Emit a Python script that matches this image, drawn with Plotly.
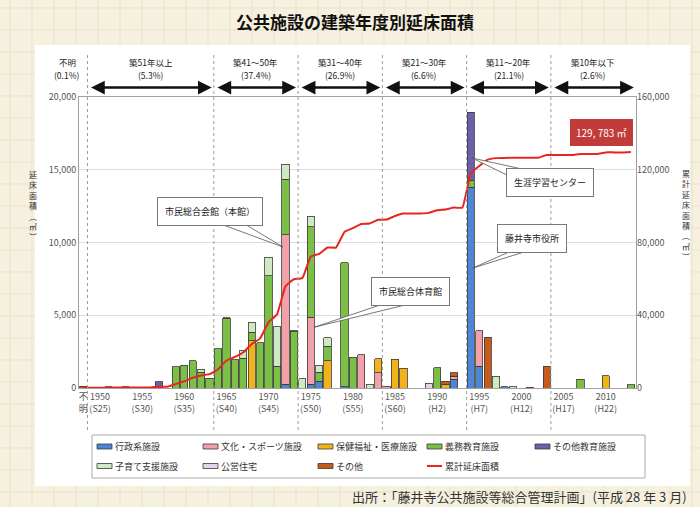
import plotly.graph_objects as go
import numpy as np

# ---------------- data ----------------
# x positions: 1948 = "不明" (unknown), 1949..2013 = construction years
all_years = list(range(1948, 2014))

cat_names = ["行政系施設", "文化・スポーツ施設", "保健福祉・医療施設", "義務教育施設",
             "その他教育施設", "子育て支援施設", "公営住宅", "その他"]
cat_colors = ["#4f86d4", "#f4a0a8", "#f2b31a", "#7cbf45",
              "#6e5fae", "#cfe9c2", "#e6d3ea", "#c65b1a"]
line_name = "累計延床面積"
line_color = "#e8251f"

gyosei_years = [1972, 1975, 1976, 1979, 1992, 1994, 1995, 1998]
gyosei_vals  = [250, 250, 450, 100, 600, 13800, 1500, 100]

bunka_years = [1972, 1975, 1981, 1983, 1984, 1992, 1995]
bunka_vals  = [10300, 4600, 2280, 1050, 120, 220, 2450]

hoken_years = [1968, 1977, 1983, 1985, 1986, 1991, 2010]
hoken_vals  = [3250, 1880, 970, 1980, 1370, 250, 850]

gimu_years = [1959, 1960, 1961, 1962, 1963, 1964, 1965, 1966, 1967, 1968, 1969, 1970,
              1971, 1972, 1973, 1975, 1976, 1977, 1979, 1980, 1990, 1994, 2007, 2013]
gimu_vals  = [1450, 1580, 1880, 1100, 680, 2700, 4750, 1930, 2030, 580, 3100, 7700,
              1500, 3800, 3850, 6250, 650, 1000, 8500, 2120, 1400, 450, 600, 230]

sonota_kyoiku_years = [1957, 1994]
sonota_kyoiku_vals  = [420, 4700]

kosodate_years = [1962, 1967, 1968, 1970, 1971, 1972, 1974, 1975, 1976, 1977, 1982, 1997]
kosodate_vals  = [200, 580, 680, 1300, 2700, 1030, 650, 690, 450, 560, 250, 820]

jutaku_years = [1989, 1999]
jutaku_vals  = [333, 80]

sonota_years = [1948, 1951, 1953, 1965, 1973, 1991, 1992, 1996, 2001, 2003]
sonota_vals  = [130, 80, 80, 80, 70, 220, 220, 3480, 50, 1480]

series_years = [gyosei_years, bunka_years, hoken_years, gimu_years,
                sonota_kyoiku_years, kosodate_years, jutaku_years, sonota_years]
series_vals = [gyosei_vals, bunka_vals, hoken_vals, gimu_vals,
               sonota_kyoiku_vals, kosodate_vals, jutaku_vals, sonota_vals]

tick_vals = [1948, 1950, 1955, 1960, 1965, 1970, 1975, 1980, 1985, 1990, 1995, 2000, 2005, 2010]
tick_text = ["不<br>明", "1950<br>(S25)", "1955<br>(S30)", "1960<br>(S35)", "1965<br>(S40)",
             "1970<br>(S45)", "1975<br>(S50)", "1980<br>(S55)", "1985<br>(S60)", "1990<br>(H2)",
             "1995<br>(H7)", "2000<br>(H12)", "2005<br>(H17)", "2010<br>(H22)"]

# age bands (boundaries between years)
band_edges = [1947.5, 1948.5, 1963.5, 1973.5, 1983.5, 1993.5, 2003.5, 2013.6]
band_names = ["不明", "築51年以上", "築41～50年", "築31～40年", "築21～30年", "築11～20年", "築10年以下"]
band_pcts = ["(0.1%)", "(5.3%)", "(37.4%)", "(26.9%)", "(6.6%)", "(21.1%)", "(2.6%)"]

total_label = "129, 783 ㎡"

# ---------------- figure ----------------
FONT = "Noto Sans CJK JP"
fig = go.Figure()

for name, color, yrs, vals in zip(cat_names, cat_colors, series_years, series_vals):
    fig.add_trace(go.Bar(x=yrs, y=vals, name=name,
                         marker=dict(color=color, line=dict(color="#3a3a3a", width=0.8)),
                         yaxis="y"))

# cumulative line
totals = {y: 0 for y in all_years}
for yrs, vals in zip(series_years, series_vals):
    for y, v in zip(yrs, vals):
        totals[y] += v
cum = np.cumsum([totals[y] for y in all_years])
fig.add_trace(go.Scatter(x=all_years, y=cum, name=line_name, mode="lines",
                         line=dict(color=line_color, width=2, shape="spline", smoothing=0.35),
                         yaxis="y2"))

L, T, PW, PH = 79, 97, 557, 291
def px_to_paper_x(px):
    return (px - L) / PW
def py_to_paper_y(py):
    return (T + PH - py) / PH

shapes = []
annotations = []

# background grid pattern (page decoration)
for gx in range(10, 700, 22):
    shapes.append(dict(type="line", xref="paper", yref="paper", layer="below",
                       x0=px_to_paper_x(gx), x1=px_to_paper_x(gx),
                       y0=py_to_paper_y(507), y1=py_to_paper_y(0),
                       line=dict(color="#ebe1c8", width=1)))
for gy in range(8, 507, 22):
    shapes.append(dict(type="line", xref="paper", yref="paper", layer="below",
                       x0=px_to_paper_x(0), x1=px_to_paper_x(700),
                       y0=py_to_paper_y(gy), y1=py_to_paper_y(gy),
                       line=dict(color="#ebe1c8", width=1)))

# white panel
shapes.append(dict(type="rect", xref="paper", yref="paper", layer="below",
                   x0=px_to_paper_x(35), x1=px_to_paper_x(690), y0=py_to_paper_y(486), y1=py_to_paper_y(45),
                   fillcolor="white", line=dict(width=0)))

# dashed band separators
for e in band_edges[1:-1]:
    shapes.append(dict(type="line", xref="x", yref="paper", x0=e, x1=e,
                       y0=py_to_paper_y(430), y1=py_to_paper_y(53),
                       line=dict(color="#9a9a9a", width=1, dash="dot")))

# band labels + arrows
for i, (nm, pc) in enumerate(zip(band_names, band_pcts)):
    a, b = band_edges[i], band_edges[i + 1]
    if i == 0:
        xr, cx = "paper", px_to_paper_x(67)
    else:
        xr, cx = "x", (a + b) / 2
    annotations.append(dict(x=cx, y=py_to_paper_y(62), xref=xr, yref="paper", text=nm, showarrow=False,
                            font=dict(size=8.5, color="#222", family=FONT)))
    annotations.append(dict(x=cx, y=py_to_paper_y(75), xref=xr, yref="paper", text=pc, showarrow=False,
                            font=dict(size=8.5, color="#222", family=FONT)))
    if i > 0:
        annotations.append(dict(x=b - 0.25, y=py_to_paper_y(87.5), xref="x", yref="paper",
                                ax=a + 0.25, ay=0, axref="x", ayref="pixel", text="", showarrow=True,
                                arrowhead=2, arrowside="end+start", arrowsize=1.1, arrowwidth=2.5,
                                arrowcolor="#111"))

# callouts
def xd(px):
    return 1947.5 + (px - L) / (PW / 66.1)
def yd(py):
    return (T + PH - py) / PH * 20000

callouts = [
    ("市民総合会館（本館）", (210, 211), (283, 247), [(218, 223), (243, 223)]),
    ("市民総合体育館", (410, 291), (315, 327), [(380, 305), (405, 305)]),
    ("生涯学習センター", (550, 182.5), (472, 158), [(509, 176), (522, 169)]),
    ("藤井寺市役所", (532, 238.5), (473, 268), [(509, 252), (524, 252)]),
]
for text, (cxp, cyp), (tx, ty), base in callouts:
    path = "M {} {} L {} {} L {} {} Z".format(xd(base[0][0]), yd(base[0][1]), xd(tx), yd(ty),
                                              xd(base[1][0]), yd(base[1][1]))
    shapes.append(dict(type="path", xref="x", yref="y", path=path, fillcolor="white",
                       line=dict(color="#555", width=0.8)))
    annotations.append(dict(x=xd(cxp), y=yd(cyp), xref="x", yref="y", text=text, showarrow=False,
                            font=dict(size=9, color="#222", family=FONT), bgcolor="white",
                            bordercolor="#777", borderwidth=1, borderpad=7))

annotations.append(dict(x=xd(601), y=yd(132.5), xref="x", yref="y", text=total_label, showarrow=False,
                        font=dict(size=10, color="white", family=FONT), bgcolor="#c23b3b",
                        bordercolor="#c23b3b", borderwidth=1, borderpad=5))

# legend (drawn as a boxed key)
shapes.append(dict(type="rect", xref="paper", yref="paper",
                   x0=px_to_paper_x(92), x1=px_to_paper_x(645), y0=py_to_paper_y(478), y1=py_to_paper_y(435),
                   fillcolor="white", line=dict(color="#aaaaaa", width=1)))
leg_x = [97, 203, 318, 427, 535]
leg_y = [446.5, 466]
leg_items = list(zip(cat_names, cat_colors)) + [(line_name, line_color)]
for k, (nm, col) in enumerate(leg_items):
    r, c = divmod(k, 5)
    x0, yc = leg_x[c], leg_y[r]
    if nm == line_name:
        shapes.append(dict(type="line", xref="paper", yref="paper",
                           x0=px_to_paper_x(x0), x1=px_to_paper_x(x0 + 15),
                           y0=py_to_paper_y(yc), y1=py_to_paper_y(yc),
                           line=dict(color=col, width=2)))
    else:
        shapes.append(dict(type="rect", xref="paper", yref="paper",
                           x0=px_to_paper_x(x0), x1=px_to_paper_x(x0 + 15),
                           y0=py_to_paper_y(yc + 2.5), y1=py_to_paper_y(yc - 2.5),
                           fillcolor=col, line=dict(color="#3a3a3a", width=0.8)))
    annotations.append(dict(x=px_to_paper_x(x0 + 16), y=py_to_paper_y(yc), xref="paper", yref="paper",
                            text=nm, showarrow=False, xanchor="left",
                            font=dict(size=9, color="#333", family=FONT)))

# axis titles (vertical)
annotations.append(dict(x=px_to_paper_x(33), y=py_to_paper_y(205), xref="paper", yref="paper",
                        text="延<br>床<br>面<br>積<br>︵<br>㎡<br>︶", showarrow=False,
                        font=dict(size=8, color="#333", family=FONT)))
annotations.append(dict(x=px_to_paper_x(686), y=py_to_paper_y(215), xref="paper", yref="paper",
                        text="累<br>計<br>延<br>床<br>面<br>積<br>︵<br>㎡<br>︶", showarrow=False,
                        font=dict(size=8, color="#333", family=FONT)))

# title & source
annotations.append(dict(x=px_to_paper_x(355), y=py_to_paper_y(21), xref="paper", yref="paper",
                        text="<b>公共施設の建築年度別延床面積</b>", showarrow=False,
                        font=dict(size=17, color="#111", family=FONT)))
annotations.append(dict(x=px_to_paper_x(689), y=py_to_paper_y(496), xref="paper", yref="paper",
                        text="出所：「藤井寺公共施設等総合管理計画」(平成 28 年 3 月)", showarrow=False,
                        xanchor="right", font=dict(size=13, color="#333", family=FONT)))

for a in annotations:
    a.setdefault("xanchor", "center")
    a.setdefault("yanchor", "middle")

fig.update_layout(
    width=700, height=507,
    margin=dict(l=L, r=700 - L - PW, t=T, b=507 - T - PH),
    paper_bgcolor="#f6f0df",
    plot_bgcolor="white",
    barmode="stack",
    bargap=0.14,
    font=dict(family=FONT, size=9, color="#444"),
    xaxis=dict(range=[1947.5, 2013.6], tickvals=tick_vals, ticktext=tick_text, showgrid=False,
               zeroline=False, showline=True, linecolor="#a0a0a0", mirror=True, ticks="",
               tickangle=0, tickfont=dict(size=9, color="#555")),
    yaxis=dict(range=[0, 20000], dtick=5000, tickformat=",", showgrid=True, gridcolor="#dcdcdc",
               zeroline=False, showline=True, linecolor="#a0a0a0", mirror=True, ticks="",
               tickfont=dict(size=9, color="#555")),
    yaxis2=dict(range=[0, 160000], dtick=40000, tickformat=",", overlaying="y", side="right",
                showgrid=False, zeroline=False, ticks="", tickfont=dict(size=9, color="#555")),
    showlegend=False,
    shapes=shapes,
    annotations=annotations,
)

fig.write_html("out.html")
